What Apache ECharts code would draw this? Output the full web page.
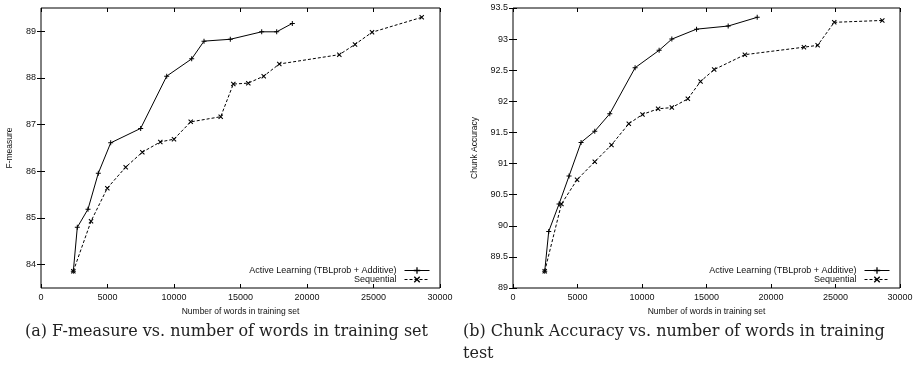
<!DOCTYPE html>
<html>
<head>
<meta charset="utf-8">
<script src="https://cdn.jsdelivr.net/npm/echarts@6/dist/echarts.min.js"></script>
<style>
html,body{margin:0;padding:0;background:#fff;}
#c{width:920px;height:376px;}
</style>
</head>
<body>
<div id="c"></div>
<script>
// ---- data ----
const leftActiveX = [2430, 2730, 3534, 4310, 5240, 7494, 9452, 11330, 12256, 14233, 16594, 17721, 18896];
const leftActiveY = [83.86, 84.80, 85.19, 85.96, 86.61, 86.92, 88.04, 88.41, 88.79, 88.83, 88.99, 88.99, 89.17];
const leftSeqX = [2430, 3760, 4987, 6368, 7617, 8970, 10000, 11256, 13512, 14459, 15587, 16745, 17918, 22430, 23610, 24888, 28625];
const leftSeqY = [83.86, 84.93, 85.64, 86.09, 86.41, 86.63, 86.69, 87.06, 87.17, 87.87, 87.89, 88.04, 88.30, 88.50, 88.72, 88.98, 89.30];

const rightActiveX = [2459, 2770, 3569, 4345, 5276, 6338, 7502, 9466, 11327, 12312, 14228, 16680, 18930];
const rightActiveY = [89.27, 89.91, 90.35, 90.80, 91.34, 91.52, 91.80, 92.54, 92.82, 93.00, 93.16, 93.21, 93.35];
const rightSeqX = [2459, 3755, 4965, 6338, 7634, 8976, 10039, 11249, 12312, 13553, 14538, 15594, 17975, 22553, 23615, 24903, 28627];
const rightSeqY = [89.27, 90.35, 90.74, 91.03, 91.30, 91.64, 91.79, 91.88, 91.90, 92.04, 92.32, 92.51, 92.75, 92.87, 92.90, 93.27, 93.30];

const leftYTicks = [84, 85, 86, 87, 88, 89];
const seriesNames = ['Active Learning (TBLprob + Additive)', 'Sequential'];
const xAxisTitle = 'Number of words in training set';
const leftYTitle = 'F-measure';
const rightYTitle = 'Chunk Accuracy';
const captionA = '(a) F-measure vs. number of words in training set';
const captionB = '(b) Chunk Accuracy vs. number of words in training\ntest';

// ---- build ----
const zip = (xs, ys) => xs.map((x, i) => [x, ys[i]]);
const SANS = 'Liberation Sans, Arial, sans-serif';
const PLUS = 'path://M0,4L10,4L10,6L0,6Z M4,0L6,0L6,10L4,10Z';
const CROSS = 'path://M0,1.5L1.5,0L10,8.5L8.5,10Z M8.5,0L10,1.5L1.5,10L0,8.5Z';

function xAx(gi, pos, showLabels) {
  return {
    type: 'value', gridIndex: gi, position: pos, min: 0, max: 30000, interval: 5000,
    axisLine: { show: false },
    axisTick: { show: true, inside: true, length: 4, lineStyle: { color: '#000', width: 1 } },
    axisLabel: { show: showLabels, color: '#111', fontSize: 9, fontFamily: SANS, margin: 5,
      formatter: v => String(v) },
    splitLine: { show: false },
    name: showLabels ? xAxisTitle : '',
    nameLocation: 'middle', nameGap: 17,
    nameTextStyle: { color: '#111', fontSize: 8.5, fontFamily: SANS }
  };
}
function yAx(gi, pos, showLabels, cfg) {
  const a = {
    type: 'value', gridIndex: gi, position: pos, min: cfg.min, max: cfg.max,
    axisLine: { show: false },
    axisTick: { show: true, inside: true, length: 4, lineStyle: { color: '#000', width: 1 } },
    axisLabel: { show: showLabels, color: '#111', fontSize: 9, fontFamily: SANS, margin: 5,
      formatter: v => String(v) },
    splitLine: { show: false },
    name: showLabels ? cfg.title : '',
    nameLocation: 'middle', nameGap: cfg.gap,
    nameTextStyle: { color: '#111', fontSize: 8.5, fontFamily: SANS }
  };
  if (cfg.interval) a.interval = cfg.interval;
  if (cfg.ticks) {
    a.axisTick.customValues = cfg.ticks;
    a.axisLabel.customValues = cfg.ticks;
  }
  return a;
}
function lineSeries(name, xi, yi, data, dashed, sym, size) {
  return {
    name: name, type: 'line', xAxisIndex: xi, yAxisIndex: yi, data: data,
    symbol: sym, symbolSize: size, showSymbol: true, animation: false,
    lineStyle: { color: '#000', width: 1, type: dashed ? [3, 2] : 'solid' },
    itemStyle: { color: '#000', borderWidth: 0 },
    emphasis: { disabled: true }
  };
}
function legend(right) {
  return {
    orient: 'vertical', right: right, top: 266, align: 'right', padding: 0,
    itemGap: 0, itemWidth: 25, itemHeight: 8, selectedMode: false,
    data: seriesNames,
    lineStyle: { width: 1 },
    itemStyle: { borderWidth: 0 },
    textStyle: { color: '#111', fontSize: 9, fontFamily: SANS, lineHeight: 9, padding: [0, 3, 0, 0] }
  };
}

const chart = echarts.init(document.getElementById('c'), null, { renderer: 'canvas' });
const capStyle = { fontFamily: 'DejaVu Serif, serif', fontWeight: 'normal', fontSize: 16, color: '#222', lineHeight: 22 };
chart.setOption({
  backgroundColor: '#fff',
  animation: false,
  title: [
    { text: captionA, left: 25, top: 321, padding: 0, textStyle: capStyle },
    { text: captionB, left: 463, top: 321, padding: 0, textStyle: capStyle }
  ],
  grid: [
    { left: 41, right: 480, top: 8, bottom: 88, show: true, borderColor: '#000', borderWidth: 1, backgroundColor: 'transparent' },
    { left: 513, right: 20, top: 8, bottom: 88, show: true, borderColor: '#000', borderWidth: 1, backgroundColor: 'transparent' }
  ],
  xAxis: [
    xAx(0, 'bottom', true), xAx(0, 'top', false),
    xAx(1, 'bottom', true), xAx(1, 'top', false)
  ],
  yAxis: [
    yAx(0, 'left', true, { min: 83.5, max: 89.5, ticks: leftYTicks, title: leftYTitle, gap: 27 }),
    yAx(0, 'right', false, { min: 83.5, max: 89.5, ticks: leftYTicks }),
    yAx(1, 'left', true, { min: 89, max: 93.5, interval: 0.5, title: rightYTitle, gap: 34 }),
    yAx(1, 'right', false, { min: 89, max: 93.5, interval: 0.5 })
  ],
  legend: [legend(490), legend(30)],
  series: [
    lineSeries(seriesNames[0], 0, 0, zip(leftActiveX, leftActiveY), false, PLUS, 5),
    lineSeries(seriesNames[1], 0, 0, zip(leftSeqX, leftSeqY), true, CROSS, 5),
    lineSeries(seriesNames[0], 2, 2, zip(rightActiveX, rightActiveY), false, PLUS, 5),
    lineSeries(seriesNames[1], 2, 2, zip(rightSeqX, rightSeqY), true, CROSS, 5)
  ]
});
</script>
</body>
</html>
